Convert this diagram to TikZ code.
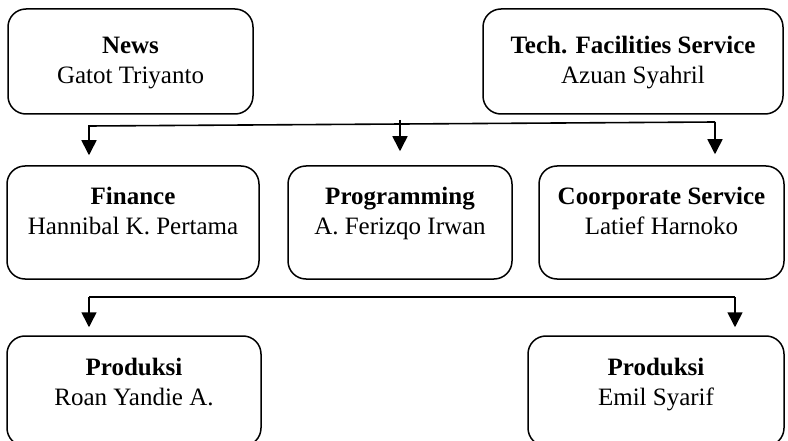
\documentclass[tikz,border=0pt]{standalone}
\usepackage{fontspec}
\setmainfont{Liberation Serif}
\usetikzlibrary{arrows.meta}
\begin{document}
\begin{tikzpicture}[x=1pt,y=-1pt,
  box/.style={draw, line width=1.5pt, rounded corners=18pt, inner sep=0pt},
  ttl/.style={anchor=base, inner sep=0pt, font=\fontsize{25}{30}\selectfont\bfseries},
  nm/.style={anchor=base, inner sep=0pt, font=\fontsize{25}{30}\selectfont},
  arr/.style={line width=1.6pt, -{Triangle[width=15pt,length=15pt]}},
  ln/.style={line width=1.6pt}]
\useasboundingbox (0,0) rectangle (788,441);
\node[box, minimum width=245pt, minimum height=105pt] (news) at (130.5,61.5) {};
\node[box, minimum width=300pt, minimum height=105pt] (tech) at (633,61.5) {};
\node[box, minimum width=252pt, minimum height=113pt] (fin) at (133,222.5) {};
\node[box, minimum width=224pt, minimum height=113pt] (prog) at (400,222.5) {};
\node[box, minimum width=245pt, minimum height=113pt] (corp) at (661.5,222.5) {};
\node[box, minimum width=254pt, minimum height=110pt] (prod1) at (134,391) {};
\node[box, minimum width=256pt, minimum height=110pt] (prod2) at (656,391) {};
% texts
\node[ttl] (newsT) at ([yshift=-45pt]news.north) {News};
\node[nm]  (newsN) at ([yshift=-75pt]news.north) {Gatot Triyanto};
\node[ttl] (techT) at ([yshift=-45pt]tech.north) {Tech. Facilities Service};
\node[nm]  (techN) at ([yshift=-75pt]tech.north) {Azuan Syahril};
\node[ttl] (finT) at ([yshift=-39pt]fin.north) {Finance};
\node[nm]  (finN) at ([yshift=-69pt]fin.north) {Hannibal K. Pertama};
\node[ttl] (progT) at ([yshift=-39pt]prog.north) {Programming};
\node[nm]  (progN) at ([yshift=-69pt]prog.north) {A. Ferizqo Irwan};
\node[ttl] (corpT) at ([yshift=-39pt]corp.north) {Coorporate Service};
\node[nm]  (corpN) at ([yshift=-69pt]corp.north) {Latief Harnoko};
\node[ttl] (p1T) at ([yshift=-40pt]prod1.north) {Produksi};
\node[nm]  (p1N) at ([yshift=-70pt]prod1.north) {Roan Yandie A.};
\node[ttl] (p2T) at ([yshift=-40pt]prod2.north) {Produksi};
\node[nm]  (p2N) at ([yshift=-70pt]prod2.north) {Emil Syarif};
% top distribution
\coordinate (ja) at (715,122);
\coordinate (jb) at (89,126);
\coordinate (jc) at (400,120);
\draw[arr] (ja) -- (jb) -- ([yshift=10pt]jb |- fin.north);
\draw[arr] (jc) -- ([yshift=14pt]jc |- prog.north);
\draw[arr] (ja) -- ([yshift=11pt]ja |- corp.north);
% bottom distribution
\coordinate (ka) at (89,297);
\coordinate (kb) at (735,297);
\draw[ln] (ka) -- (kb);
\draw[arr] (ka) -- ([yshift=8pt]ka |- prod1.north);
\draw[arr] (kb) -- ([yshift=8pt]kb |- prod2.north);
\end{tikzpicture}
\end{document}
